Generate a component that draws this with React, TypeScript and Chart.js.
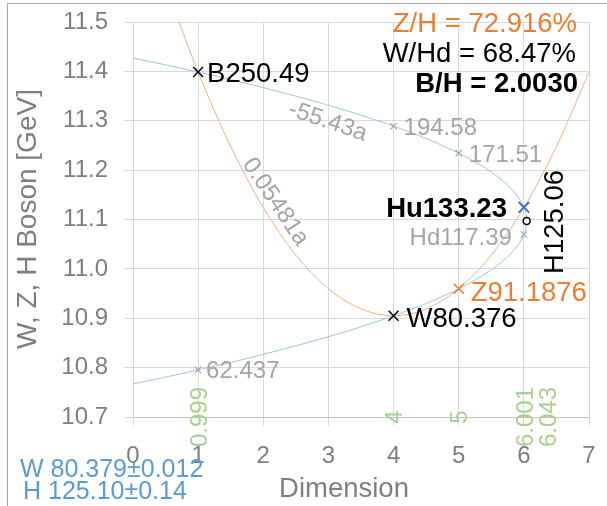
import React, { useEffect, useRef } from 'react';
import { Chart, registerables } from 'chart.js';

Chart.register(...registerables);

const FONT = "'Liberation Sans', Arial, sans-serif";

// ---- data ----
const xMin = 0;
const xMax = 7;
const yMin = 10.7;
const yMax = 11.5;

// blue curve (sideways parabola)
const blueCurveX = [0.0, 0.543, 1.054, 1.541, 2.002, 2.85, 3.599, 4.247, 4.796, 5.245, 5.594, 5.843, 5.993, 6.043, 5.993, 5.843, 5.594, 5.245, 4.796, 4.247, 3.599, 2.85, 2.002, 1.541, 1.054, 0.543, 0.0];
const blueCurveY = [11.427, 11.412, 11.397, 11.382, 11.367, 11.337, 11.307, 11.277, 11.247, 11.217, 11.187, 11.157, 11.127, 11.097, 11.067, 11.037, 11.007, 10.977, 10.947, 10.917, 10.887, 10.857, 10.827, 10.812, 10.797, 10.782, 10.767];

// orange curve (parabola)
const orangeCurveX = [0.7, 0.85, 1.0, 1.25, 1.5, 1.75, 2.0, 2.5, 3.0, 3.5, 4.0, 4.5, 5.0, 5.5, 6.0, 6.5, 7.0];
const orangeCurveY = [11.502, 11.449, 11.398, 11.32, 11.248, 11.183, 11.124, 11.028, 10.96, 10.919, 10.905, 10.919, 10.96, 11.028, 11.124, 11.248, 11.398];

// particles
const particleNames = ['B250.49', '194.58', '171.51', 'Hu133.23', 'H125.06', 'Hd117.39', 'Z91.1876', 'W80.376', '62.437'];
const particleX = [0.999, 4.0, 5.0, 6.001, 6.043, 6.001, 5.0, 4.0, 0.999];
const particleY = [11.3988, 11.2891, 11.2343, 11.1246, 11.0971, 11.0696, 10.9599, 10.9051, 10.7954];

// dimension labels along the bottom
const dimensionLabels = ['0.999', '4', '5', '6.001', '6.043'];
const dimensionValues = [0.999, 4, 5, 6.001, 6.043];

const ratioTexts = ['Z/H = 72.916%', 'W/Hd = 68.47%', 'B/H = 2.0030'];
const fitTexts = ['W 80.379±0.012', 'H 125.10±0.14'];
const slopeTexts = ['-55.43a', '0.05481a'];
const slopeAnchorX = [3.0, 2.21];
const slopeAnchorY = [11.302, 11.138];

const xTitle = 'Dimension';
const yTitle = 'W, Z, H Boson [GeV]';

// ---- styles ----
const BLACK = '#000000';
const GRAY = '#A5A5A5';
const ORANGE = '#ED7D31';
const BLUE_MARK = '#4472C4';
const BLUE_TEXT = '#5B9BD5';
const GREEN = '#A9D18E';
const AXIS_GRAY = '#7F7F7F';

type LStyle = { dx: number; dy: number; align: 'left' | 'right' | 'center'; color: string; size: number; bold?: boolean; rot?: number };

const markerStyle = [
  { s: 'crossRot', r: 7, c: BLACK, w: 1.5, bg: BLACK },
  { s: 'crossRot', r: 4.5, c: GRAY, w: 1.2, bg: GRAY },
  { s: 'crossRot', r: 4.5, c: GRAY, w: 1.2, bg: GRAY },
  { s: 'crossRot', r: 7.5, c: BLUE_MARK, w: 2, bg: BLUE_MARK },
  { s: 'circle', r: 3.5, c: BLACK, w: 1.5, bg: '#FFFFFF' },
  { s: 'crossRot', r: 4.5, c: GRAY, w: 1.2, bg: GRAY },
  { s: 'crossRot', r: 7, c: ORANGE, w: 1.5, bg: ORANGE },
  { s: 'crossRot', r: 7, c: BLACK, w: 1.5, bg: BLACK },
  { s: 'crossRot', r: 4.5, c: GRAY, w: 1.2, bg: GRAY },
];

const labelStyle: LStyle[] = [
  { dx: 9, dy: 0, align: 'left', color: BLACK, size: 27.5 },
  { dx: 10, dy: 0, align: 'left', color: GRAY, size: 24 },
  { dx: 10, dy: 0, align: 'left', color: GRAY, size: 24 },
  { dx: -17, dy: 0, align: 'right', color: BLACK, size: 27.5, bold: true },
  { dx: 26, dy: 1, align: 'center', color: BLACK, size: 27.5, rot: -Math.PI / 2 },
  { dx: -12, dy: 2, align: 'right', color: GRAY, size: 24 },
  { dx: 12, dy: 2, align: 'left', color: ORANGE, size: 27.5 },
  { dx: 13, dy: 1, align: 'left', color: BLACK, size: 27.5 },
  { dx: 8, dy: 0, align: 'left', color: GRAY, size: 24 },
];

const dimensionDx = [0, 0, 0, 0, 21];

function drawText(
  ctx: CanvasRenderingContext2D,
  text: string,
  x: number,
  y: number,
  size: number,
  color: string,
  align: CanvasTextAlign,
  bold = false,
  rot = 0,
  centered = true
) {
  ctx.save();
  ctx.font = `${bold ? 'bold ' : ''}${size}px ${FONT}`;
  ctx.fillStyle = color;
  ctx.textAlign = align;
  ctx.textBaseline = 'alphabetic';
  ctx.translate(x, y);
  if (rot) ctx.rotate(rot);
  ctx.fillText(text, 0, centered ? size * 0.358 : 0);
  ctx.restore();
}

const labelPlugin = {
  id: 'labels',
  beforeDraw(chart: any) {
    const ctx = chart.ctx as CanvasRenderingContext2D;
    ctx.save();
    ctx.fillStyle = '#FFFFFF';
    ctx.fillRect(0, 0, chart.width, chart.height);
    ctx.restore();
  },
  afterDatasetsDraw(chart: any) {
    const ctx = chart.ctx as CanvasRenderingContext2D;
    const xs = chart.scales.x;
    const ys = chart.scales.y;

    particleNames.forEach((name, i) => {
      const st = labelStyle[i];
      const px = xs.getPixelForValue(particleX[i]) + st.dx;
      const py = ys.getPixelForValue(particleY[i]) + st.dy;
      drawText(ctx, name, px, py, st.size, st.color, st.align, !!st.bold, st.rot || 0);
    });

    dimensionLabels.forEach((t, i) => {
      const px = xs.getPixelForValue(dimensionValues[i]) + dimensionDx[i];
      const py = ys.getPixelForValue(yMin);
      drawText(ctx, t, px, py, 24, GREEN, 'center', false, -Math.PI / 2);
    });

    const slopeRot = [0.325, 0.98];
    slopeTexts.forEach((t, i) => {
      const px = xs.getPixelForValue(slopeAnchorX[i]);
      const py = ys.getPixelForValue(slopeAnchorY[i]);
      drawText(ctx, t, px, py, 24, GRAY, 'center', false, slopeRot[i]);
    });

    const ratioColor = [ORANGE, BLACK, BLACK];
    const ratioBold = [false, false, true];
    const ratioX = [577, 576, 578];
    const ratioY = [32, 62, 92];
    ratioTexts.forEach((t, i) => {
      drawText(ctx, t, ratioX[i], ratioY[i], 27.5, ratioColor[i], 'right', ratioBold[i], 0, false);
    });

    const fitX = [20, 23];
    const fitY = [477, 499];
    fitTexts.forEach((t, i) => {
      drawText(ctx, t, fitX[i], fitY[i], 25, BLUE_TEXT, 'left', false, 0, false);
    });

    drawText(ctx, xTitle, 344, 497, 27.5, AXIS_GRAY, 'center', false, 0, false);
    drawText(ctx, yTitle, 36, 219, 28, AXIS_GRAY, 'center', false, -Math.PI / 2, false);

    ctx.save();
    ctx.strokeStyle = '#A6A6A6';
    ctx.lineWidth = 1;
    ctx.strokeRect(7.5, 3.5, 800, 800);
    ctx.restore();
  },
};

export default function App() {
  const ref = useRef<HTMLCanvasElement | null>(null);

  useEffect(() => {
    document.body.style.margin = '0';
    const canvas = ref.current;
    if (!canvas) return;

    const markers = particleX.map((x, i) => ({ x, y: particleY[i] }));
    const blue = blueCurveX.map((x, i) => ({ x, y: blueCurveY[i] }));
    const orange = orangeCurveX.map((x, i) => ({ x, y: orangeCurveY[i] }));

    const chart = new Chart(canvas, {
      type: 'scatter',
      data: {
        datasets: [
          {
            label: 'particles',
            data: markers,
            showLine: false,
            pointStyle: markerStyle.map((m) => m.s) as any,
            pointRadius: markerStyle.map((m) => m.r),
            pointBorderColor: markerStyle.map((m) => m.c),
            pointBackgroundColor: markerStyle.map((m) => m.bg),
            pointBorderWidth: markerStyle.map((m) => m.w),
          } as any,
          {
            label: 'blue',
            data: blue,
            showLine: true,
            borderColor: '#9DC3E6',
            borderWidth: 1,
            pointRadius: 0,
            tension: 0.4,
          } as any,
          {
            label: 'orange',
            data: orange,
            showLine: true,
            borderColor: '#F4B183',
            borderWidth: 1,
            pointRadius: 0,
            cubicInterpolationMode: 'monotone',
          } as any,
        ],
      },
      options: {
        animation: false,
        responsive: false,
        devicePixelRatio: 1,
        layout: { padding: { top: 22, right: 18, left: 0, bottom: 0 } },
        plugins: {
          legend: { display: false },
          tooltip: { enabled: false },
        },
        scales: {
          x: {
            type: 'linear',
            min: xMin,
            max: xMax,
            ticks: {
              stepSize: 1,
              color: AXIS_GRAY,
              font: { family: FONT, size: 24 },
              padding: 16,
              maxRotation: 0,
            },
            grid: { color: '#D9D9D9', tickLength: 9, tickColor: '#D9D9D9' },
            border: { color: '#BFBFBF' },
            afterFit: (s: any) => {
              s.height = 89;
              s.paddingLeft = 0;
              s.paddingRight = 0;
            },
          },
          y: {
            type: 'linear',
            min: yMin,
            max: yMax,
            ticks: {
              stepSize: 0.1,
              color: AXIS_GRAY,
              font: { family: FONT, size: 24 },
              padding: 16,
              callback: (v: any) => Number(v).toFixed(1),
            },
            grid: { color: '#D9D9D9', tickLength: 9, tickColor: '#D9D9D9' },
            border: { color: '#D9D9D9' },
            afterFit: (s: any) => {
              s.width = 133;
              s.paddingTop = 0;
              s.paddingBottom = 0;
            },
          },
        },
      } as any,
      plugins: [labelPlugin],
    });

    return () => chart.destroy();
  }, []);

  return (
    <div style={{ width: 607, height: 506 }}>
      <canvas ref={ref} width={607} height={506} style={{ display: 'block', width: 607, height: 506 }} />
    </div>
  );
}
